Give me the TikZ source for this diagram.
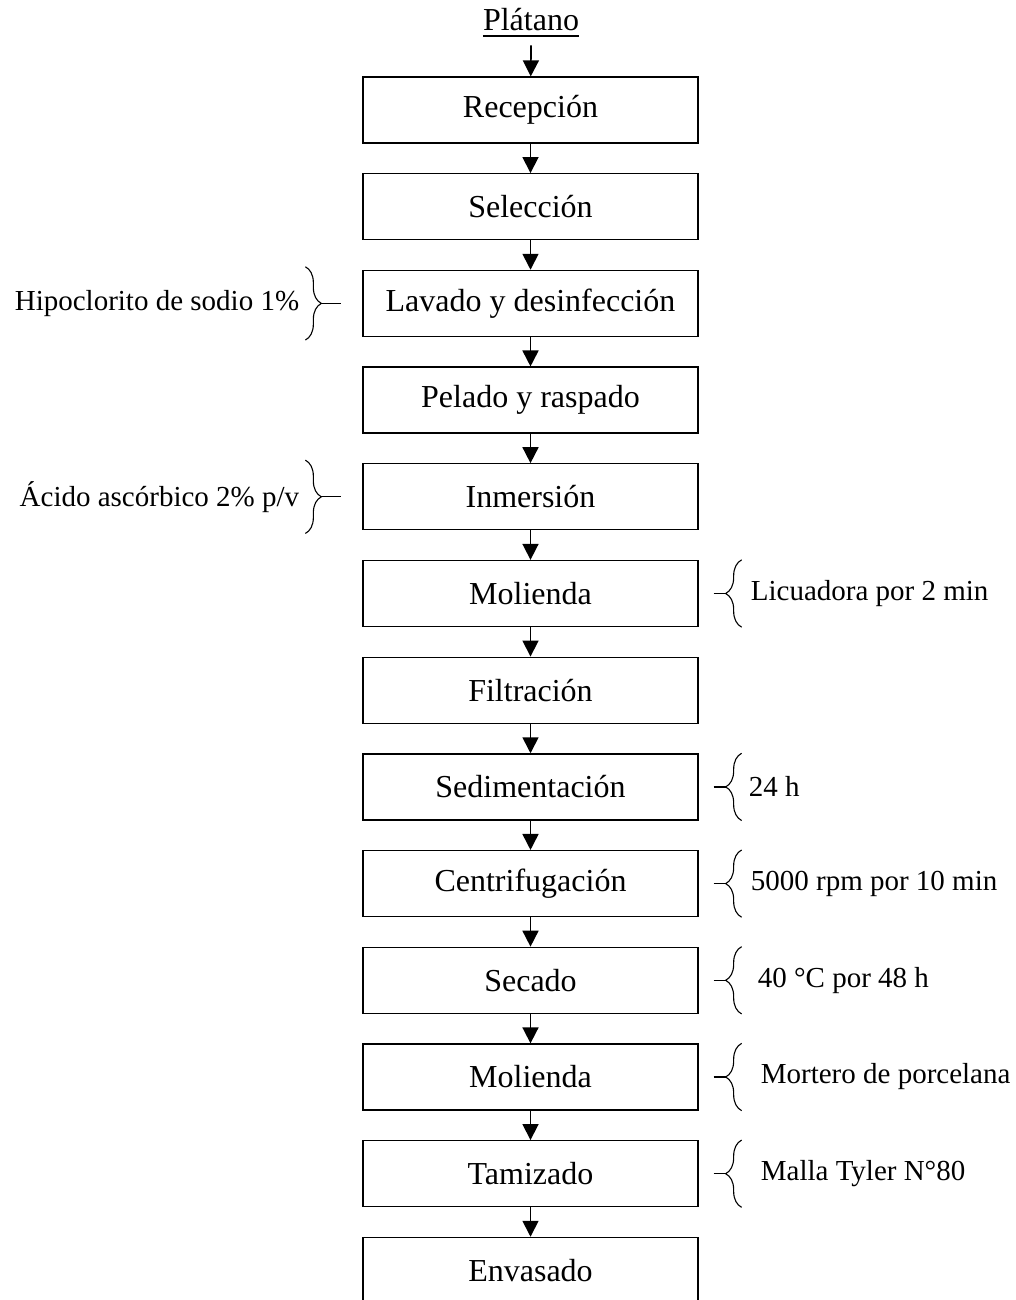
\documentclass[tikz,border=0pt]{standalone}
\usepackage{fontspec}
\setmainfont{Liberation Serif}
\usetikzlibrary{arrows.meta, positioning, decorations.pathreplacing}

\begin{document}
\begin{tikzpicture}[
    x=1pt, y=1pt,
    node distance=29.4pt,
    every node/.style={font=\fontsize{32}{36}\selectfont},
    box/.style={rectangle, draw, line width=1.3pt, align=center,
                minimum width=335pt, minimum height=66pt, inner sep=0pt},
    arrow/.style={line width=1.7pt, -{Triangle[width=16pt,length=16pt]}},
    note/.style={font=\fontsize{29}{34}\selectfont, inner sep=0pt},
    brc/.style={decorate, decoration={brace, amplitude=16pt}, line width=1.1pt},
    tick/.style={line width=1.2pt}
  ]
  \useasboundingbox (0,0) rectangle (1016,-1300);

  \node[inner sep=0pt] (pla) at (531,-20) {Plátano};
  \draw[line width=1.4pt] ([yshift=-5pt]pla.base west) -- ([yshift=-5pt]pla.base east);

  \node[box] (rec) at (530.5,-110) {Recepción};
  \node[box, below=of rec] (sel) {Selección};
  \node[box, below=of sel] (lav) {Lavado y desinfección};
  \node[box, below=of lav] (pel) {Pelado y raspado};
  \node[box, below=of pel] (inm) {Inmersión};
  \node[box, below=of inm] (mola) {Molienda};
  \node[box, below=of mola] (fil) {Filtración};
  \node[box, below=of fil] (sed) {Sedimentación};
  \node[box, below=of sed] (cen) {Centrifugación};
  \node[box, below=of cen] (sec) {Secado};
  \node[box, below=of sec] (molb) {Molienda};
  \node[box, below=of molb] (tam) {Tamizado};
  \node[box, below=of tam] (env) {Envasado};

  \draw[arrow] ([yshift=-14pt]pla.south) -- (rec);
  \draw[arrow] (rec) -- (sel);
  \draw[arrow] (sel) -- (lav);
  \draw[arrow] (lav) -- (pel);
  \draw[arrow] (pel) -- (inm);
  \draw[arrow] (inm) -- (mola);
  \draw[arrow] (mola) -- (fil);
  \draw[arrow] (fil) -- (sed);
  \draw[arrow] (sed) -- (cen);
  \draw[arrow] (cen) -- (sec);
  \draw[arrow] (sec) -- (molb);
  \draw[arrow] (molb) -- (tam);
  \draw[arrow] (tam) -- (env);

  % notes on the left
  \node[note, anchor=east] (hip) at ([xshift=-63pt]lav.west) {Hipoclorito de sodio 1\%};
  \draw[brc] ([xshift=-57pt,yshift=3pt]lav.north west) -- ([xshift=-57pt,yshift=-3pt]lav.south west);
  \draw[tick] ([xshift=-41pt]lav.west) -- ([xshift=-21pt]lav.west);

  \node[note, anchor=east] (aci) at ([xshift=-63pt]inm.west) {Ácido ascórbico 2\% p/v};
  \draw[brc] ([xshift=-57pt,yshift=3pt]inm.north west) -- ([xshift=-57pt,yshift=-3pt]inm.south west);
  \draw[tick] ([xshift=-41pt]inm.west) -- ([xshift=-21pt]inm.west);

  % notes on the right
  \node[note, anchor=west] (lic) at ([xshift=52pt]mola.east) {Licuadora por 2 min};
  \node[note, anchor=west] (hrs) at ([xshift=50pt]sed.east) {24 h};
  \node[note, anchor=west] (rpm) at ([xshift=52pt]cen.east) {5000 rpm por 10 min};
  \node[note, anchor=west] (tem) at ([xshift=59pt]sec.east) {40 °C por 48 h};
  \node[note, anchor=west] (mor) at ([xshift=62pt]molb.east) {Mortero de porcelana};
  \node[note, anchor=west] (mal) at ([xshift=62pt]tam.east) {Malla Tyler N°80};

  \draw[brc] ([xshift=43pt]mola.south east) -- ([xshift=43pt]mola.north east);
  \draw[tick] ([xshift=15pt]mola.east) -- ([xshift=27pt]mola.east);
  \draw[brc] ([xshift=43pt]sed.south east) -- ([xshift=43pt]sed.north east);
  \draw[tick] ([xshift=15pt]sed.east) -- ([xshift=27pt]sed.east);
  \draw[brc] ([xshift=43pt]cen.south east) -- ([xshift=43pt]cen.north east);
  \draw[tick] ([xshift=15pt]cen.east) -- ([xshift=27pt]cen.east);
  \draw[brc] ([xshift=43pt]sec.south east) -- ([xshift=43pt]sec.north east);
  \draw[tick] ([xshift=15pt]sec.east) -- ([xshift=27pt]sec.east);
  \draw[brc] ([xshift=43pt]molb.south east) -- ([xshift=43pt]molb.north east);
  \draw[tick] ([xshift=15pt]molb.east) -- ([xshift=27pt]molb.east);
  \draw[brc] ([xshift=43pt]tam.south east) -- ([xshift=43pt]tam.north east);
  \draw[tick] ([xshift=15pt]tam.east) -- ([xshift=27pt]tam.east);

\end{tikzpicture}
\end{document}
